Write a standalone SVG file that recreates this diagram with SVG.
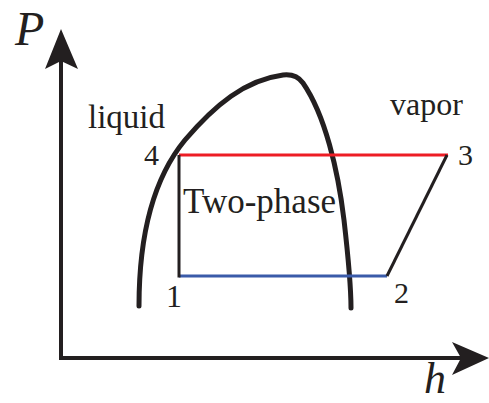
<svg xmlns="http://www.w3.org/2000/svg" width="489" height="403" viewBox="0 0 489 403">
<style>
.t{font-family:"Liberation Serif","Times New Roman",serif;fill:#231F20}
.i{font-style:italic}
.ax{stroke:#231F20;stroke-width:4;fill:none}
.ah{fill:#231F20;stroke:none}
.dome{stroke:#231F20;stroke-width:5;fill:none;stroke-linecap:round;stroke-linejoin:round}
.cy{stroke-width:3;fill:none}
</style>
<rect width="489" height="403" fill="#fff"/>
<g id="axes">
<path class="ax" d="M61,58 V358 H465"/>
<polygon class="ah" points="61,29 78,69 61,61 45,69"/>
<polygon class="ah" points="489,358 452,375 461,358 452,342"/>
<text class="t i" x="15" y="45" font-size="48">P</text>
<text class="t i" x="424" y="393" font-size="44">h</text>
</g>
<g id="dome">
<path class="dome" d="M139,306 C139,238 152,180 185,140 C215,105 245,80 283,75 C292,74 298,76 303,83 C325,115 338,170 344,220 C348,255 351,285 351,308"/>
</g>
<g id="connectors">
<line class="cy" x1="179" y1="155" x2="448" y2="155" stroke="#ED1C24"/>
<line class="cy" x1="179" y1="276" x2="387" y2="276" stroke="#3A5BA9"/>
<line class="cy" x1="179" y1="155" x2="179" y2="277.5" stroke="#231F20"/>
<line class="cy" x1="387" y1="276" x2="447" y2="155" stroke="#231F20"/>
</g>
<g id="labels">
<text class="t" x="88" y="128" font-size="33">liquid</text>
<text class="t" x="390" y="115" font-size="32">vapor</text>
<text class="t" x="183" y="213" font-size="35">Two-phase</text>
</g>
<g id="n4"><text class="t" x="144" y="165" font-size="30">4</text></g>
<g id="n3"><text class="t" x="458" y="165" font-size="30">3</text></g>
<g id="n1"><text class="t" x="166" y="307" font-size="32">1</text></g>
<g id="n2"><text class="t" x="394" y="303" font-size="30">2</text></g>
</svg>
